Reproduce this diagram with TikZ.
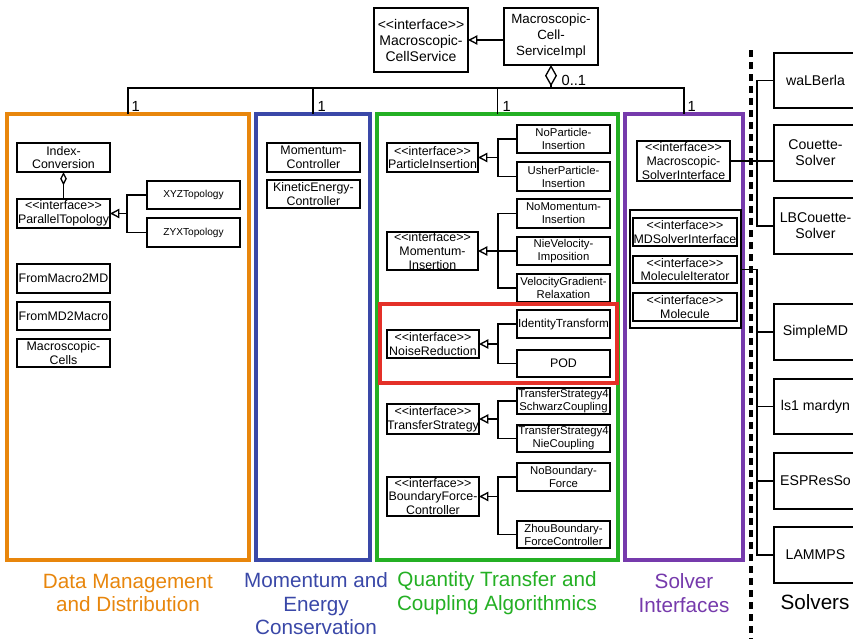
\documentclass[tikz,border=0pt]{standalone}
\usepackage{fontspec}
\setmainfont{Liberation Sans}
\usetikzlibrary{arrows.meta}
\definecolor{cOr}{RGB}{232,134,12}
\definecolor{cBl}{RGB}{58,72,168}
\definecolor{cGr}{RGB}{36,176,36}
\definecolor{cPu}{RGB}{118,58,172}
\definecolor{cRd}{RGB}{228,48,40}
\newcommand\intf{<\kern0pt<interface>\kern0pt>}
\newcommand\bx[7][]{\node[box,#1,minimum width={(#5-#3)*0.75pt},minimum height={(#6-#4)*0.75pt}] (#2) at ({(#3+#5)/2},{(#4+#6)/2}) {#7};}
\begin{document}
\begin{tikzpicture}[x=0.75pt,y=-0.75pt,
  box/.style={draw, line width=1pt, fill=white, inner sep=0pt, outer sep=0pt, align=center, font=\fontsize{9.3}{10.2}\selectfont},
  sub/.style={font=\fontsize{8.5}{9.8}\selectfont},
  subb/.style={font=\fontsize{8.8}{9.6}\selectfont},
  tinyb/.style={font=\fontsize{7.6}{9}\selectfont},
  big/.style={font=\fontsize{10.5}{12}\selectfont},
  bigi/.style={font=\fontsize{10}{12}\selectfont},
  solver/.style={font=\fontsize{10.6}{12}\selectfont},
  panel/.style={line width=2.6pt, fill=none},
  grp/.style={line width=0.8pt, fill=none},
  ln/.style={line width=1pt},
  gen/.style={ln, -{Triangle[open, length=7pt, width=7pt]}},
  mult/.style={inner sep=1pt, font=\fontsize{11}{12}\selectfont},
  lbl/.style={align=center, font=\fontsize{15.5}{17.6}\selectfont}]
\clip (0,0) rectangle (853,639);
\fill[white] (0,0) rectangle (853,639);

% top
\bx[big]{mcs}{374}{8}{468}{72}{\intf\\Macroscopic-\\CellService}
\bx[bigi]{impl}{504}{8}{598}{65}{Macroscopic-\\Cell-\\ServiceImpl}
\draw[gen] (impl.west |- mcs.east) -- (mcs.east);

% panels
\bx[panel,draw=cOr]{pOr}{7}{114}{249}{560}{}
\bx[panel,draw=cBl]{pBl}{256}{114}{370}{560}{}
\bx[panel,draw=cGr]{pGr}{377}{114}{618}{560}{}
\bx[panel,draw=cPu]{pPu}{625}{114}{743}{560}{}

\coordinate (bus) at (551,88);
\draw[ln, {Diamond[open, length=16pt, width=9pt]}-] (impl.south) -- (bus);
\draw[ln] (pOr.north) -- (pOr.north |- bus) -- (pPu.north |- bus) -- (pPu.north);
\draw[ln] (pBl.north) -- (pBl.north |- bus);
\draw[ln] (pGr.north) -- (pGr.north |- bus);
\node[mult, anchor=west] (m0) at (560,80) {0..1};
\node[mult, anchor=west] (m1) at (130,106) {1};
\node[mult, anchor=west] (m2) at (316,106) {1};
\node[mult, anchor=west] (m3) at (501,106) {1};
\node[mult, anchor=west] (m4) at (686,106) {1};

% orange contents
\bx{idx}{17}{143}{110}{172}{Index-\\Conversion}
\bx{ptop}{17}{199}{110}{228}{\intf\\ParallelTopology}
\bx[tinyb]{xyz}{147}{181}{240}{209}{XYZTopology}
\bx[tinyb]{zyx}{147}{218}{240}{247}{ZYXTopology}
\bx{fm2}{17}{264}{110}{293}{FromMacro2MD}
\bx{fmd}{17}{302}{110}{330}{FromMD2Macro}
\bx{mcells}{17}{339}{110}{367}{Macroscopic-\\Cells}
\draw[ln, {Diamond[open, length=10pt, width=5pt]}-] (idx.south) -- (ptop.north);
\path (ptop.east) ++(17,0) coordinate (j1);
\draw[ln] (xyz.west) -| (j1) |- (zyx.west);
\draw[gen] (j1) -- (ptop.east);

% blue contents
\bx{momc}{267}{143}{360}{172}{Momentum-\\Controller}
\bx{kec}{267}{180}{360}{208}{KineticEnergy-\\Controller}

% green contents
\bx{pins}{387}{143}{478}{172}{\intf\\ParticleInsertion}
\bx[sub]{nopi}{517}{125}{610}{153}{NoParticle-\\Insertion}
\bx[sub]{usher}{517}{162}{610}{191}{UsherParticle-\\Insertion}
\bx{mins}{387}{232}{478}{270}{\intf\\Momentum-\\Insertion}
\bx[sub]{nomi}{517}{199}{610}{228}{NoMomentum-\\Insertion}
\bx[sub]{nievel}{517}{237}{610}{265}{NieVelocity-\\Imposition}
\bx[sub]{vgr}{517}{274}{610}{302}{VelocityGradient-\\Relaxation}
\bx[panel,draw=cRd,line width=2.4pt]{red}{380}{304}{617}{383}{}
\bx{noise}{387}{330}{479}{358}{\intf\\NoiseReduction}
\bx[subb]{ident}{517}{310}{610}{338}{IdentityTransform}
\bx{pod}{517}{350}{610}{377}{POD}
\bx{tstrat}{387}{404}{479}{434}{\intf\\TransferStrategy}
\bx[sub]{tsschw}{517}{388}{610}{414}{TransferStrategy4\\SchwarzCoupling}
\bx[sub]{tsnie}{517}{425}{610}{452}{TransferStrategy4\\NieCoupling}
\bx{bfc}{387}{477}{479}{516}{\intf\\BoundaryForce-\\Controller}
\bx[sub]{nobf}{517}{463}{610}{491}{NoBoundary-\\Force}
\bx[sub]{zhou}{517}{521}{610}{548}{ZhouBoundary-\\ForceController}

\path (pins.east) ++(20,0) coordinate (j2);
\draw[ln] (nopi.west) -| (j2) |- (usher.west);
\draw[gen] (j2) -- (pins.east);
\path (mins.east) ++(20,0) coordinate (j3);
\draw[ln] (nomi.west) -| (j3) |- (vgr.west);
\draw[ln] (nievel.west) -- (nievel.west -| j3);
\draw[gen] (j3) -- (mins.east);
\path (noise.east) ++(19,0) coordinate (j4);
\draw[ln] (ident.west) -| (j4) |- (pod.west);
\draw[gen] (j4) -- (noise.east);
\path (tstrat.east) ++(19,0) coordinate (j5);
\draw[ln] (tsschw.west) -| (j5) |- (tsnie.west);
\draw[gen] (j5) -- (tstrat.east);
\path (bfc.east) ++(19,0) coordinate (j6);
\draw[ln] (nobf.west) -| (j6) |- (zhou.west);
\draw[gen] (j6) -- (bfc.east);

% purple contents
\bx{msi}{637}{141}{730}{181}{\intf\\Macroscopic-\\SolverInterface}
\bx[grp]{mdgrp}{630}{210}{741}{328}{}
\bx{mdsi}{633}{218}{737}{246}{\intf\\MDSolverInterface}
\bx{molit}{633}{256}{737}{283}{\intf\\MoleculeIterator}
\bx{mol}{633}{293}{737}{321}{\intf\\Molecule}

% separator
\coordinate (dtop) at (751,50);
\coordinate (dbot) at (751,639);
\draw[line width=3pt, dash pattern=on 5.3pt off 3.7pt] (dtop) -- (dbot);

% solvers
\bx[solver]{walb}{774}{53}{857}{108}{waLBerla}
\bx[solver]{cou}{774}{125}{857}{181}{Couette-\\Solver}
\bx[solver]{lbc}{774}{198}{857}{254}{LBCouette-\\Solver}
\bx[solver]{smd}{774}{304}{857}{360}{SimpleMD}
\bx[solver]{ls1}{774}{379}{857}{434}{ls1 mardyn}
\bx[solver]{esp}{774}{453}{857}{509}{ESPResSo}
\bx[solver]{lmp}{774}{527}{857}{583}{LAMMPS}

\coordinate (vx) at (757,0);
\draw[ln] (walb.west) -- (walb.west -| vx) -- (lbc.west -| vx) -- (lbc.west);
\draw[ln] (msi.east) -- (cou.west |- msi.east);
\draw[ln] (molit.east -| mdgrp.east) -- (molit.east -| vx) -- (lmp.west -| vx) -- (lmp.west);
\draw[ln] (smd.west -| vx) -- (smd.west);
\draw[ln] (ls1.west -| vx) -- (ls1.west);
\draw[ln] (esp.west -| vx) -- (esp.west);

% labels
\node[lbl, text=cOr] (lOr) at (128,593) {Data Management\\and Distribution};
\node[lbl, text=cBl] (lBl) at (316,604) {Momentum and\\Energy\\Conservation};
\node[lbl, text=cGr] (lGr) at (497,593) {Quantity Transfer and\\Coupling Algorithmics};
\node[lbl, text=cPu] (lPu) at (684,593) {Solver\\Interfaces};
\node[lbl] (lSv) at (815,602) {Solvers};
\end{tikzpicture}
\end{document}
